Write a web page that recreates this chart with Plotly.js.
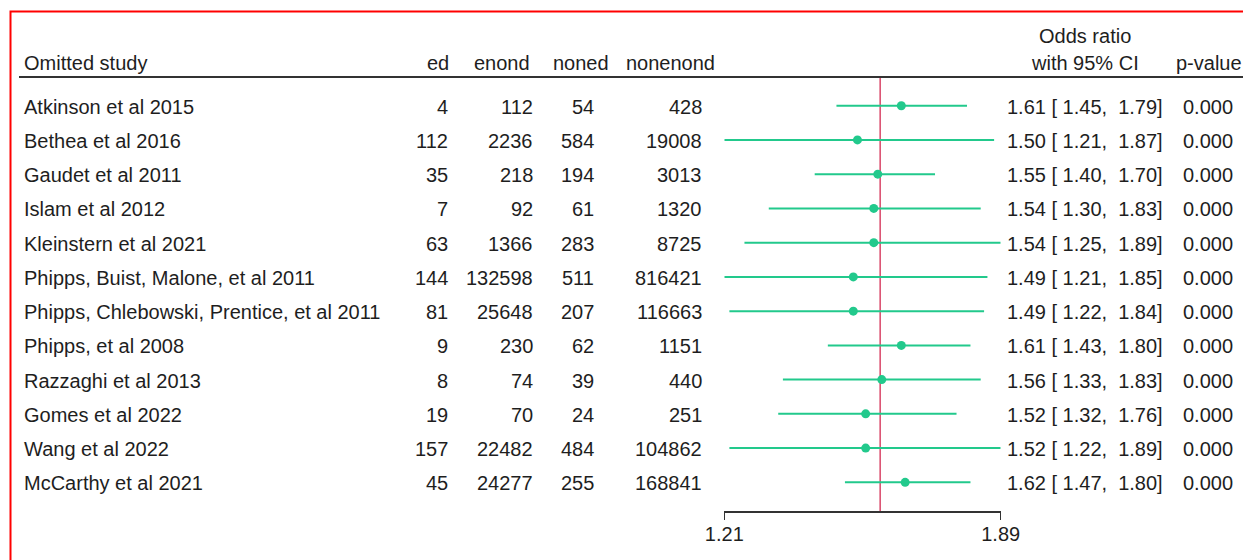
<!DOCTYPE html>
<html>
<head>
<meta charset="utf-8">
<script src="https://cdn.plot.ly/plotly-3.0.1.min.js"></script>
<style>
  html, body { margin: 0; padding: 0; background: #fff; overflow: hidden; }
  #chart { width: 1243px; height: 560px; }
</style>
</head>
<body>
<div id="chart"></div>
<script>
// Leave-one-out sensitivity analysis: each row re-pools the odds ratio with one study omitted.
const studies = [
  'Atkinson et al 2015',
  'Bethea et al 2016',
  'Gaudet et al 2011',
  'Islam et al 2012',
  'Kleinstern et al 2021',
  'Phipps, Buist, Malone, et al 2011',
  'Phipps, Chlebowski, Prentice, et al 2011',
  'Phipps, et al 2008',
  'Razzaghi et al 2013',
  'Gomes et al 2022',
  'Wang et al 2022',
  'McCarthy et al 2021'
];
const ed       = [4, 112, 35, 7, 63, 144, 81, 9, 8, 19, 157, 45];
const enond    = [112, 2236, 218, 92, 1366, 132598, 25648, 230, 74, 70, 22482, 24277];
const noned    = [54, 584, 194, 61, 283, 511, 207, 62, 39, 24, 484, 255];
const nonenond = [428, 19008, 3013, 1320, 8725, 816421, 116663, 1151, 440, 251, 104862, 168841];
const oddsRatio = [1.61, 1.50, 1.55, 1.54, 1.54, 1.49, 1.49, 1.61, 1.56, 1.52, 1.52, 1.62];
const ciLow     = [1.45, 1.21, 1.40, 1.30, 1.25, 1.21, 1.22, 1.43, 1.33, 1.32, 1.22, 1.47];
const ciHigh    = [1.79, 1.87, 1.70, 1.83, 1.89, 1.85, 1.84, 1.80, 1.83, 1.76, 1.89, 1.80];
const pValues   = [0, 0, 0, 0, 0, 0, 0, 0, 0, 0, 0, 0];
const overallOR = 1.556;
const axisTicks = [1.21, 1.89];

// ---- layout geometry (pixels in a 1243 x 560 figure) ----
const W = 1243, H = 560;
const firstRowPx = 105.7, rowStepPx = 34.24;
const rowOf = p => (p - firstRowPx) / rowStepPx;   // pixel -> row-index units
const px = x => x / W;                               // pixel -> paper x
const py = y => 1 - y / H;                           // pixel -> paper y
const headerLinePx = 77, axisLinePx = 511;

const TXT = '#1e1e1e';
const FONT = 'Liberation Sans, Arial, sans-serif';
const GREEN = '#22c98c';
const RED_LINE = '#dc5272';
const nb = s => s.replace(/ /g, '\u00A0');

const rows = studies.map((_, i) => i);

const annotations = [];
function addText(text, xPx, y, anchor) {
  annotations.push({
    text: text, xref: 'paper', x: px(xPx), yref: 'y', y: y,
    xanchor: anchor, yanchor: 'middle', showarrow: false,
    borderpad: 0, borderwidth: 0, yshift: -1,
    font: { family: FONT, size: 20, color: TXT }
  });
}

// column headers
const headerRow = rowOf(62);
addText('Omitted study', 24, headerRow, 'left');
addText('ed', 449, headerRow, 'right');
addText('enond', 502, headerRow, 'center');
addText('noned', 581, headerRow, 'center');
addText('nonenond', 671, headerRow, 'center');
addText('Odds ratio', 1085, rowOf(34.5), 'center');
addText('with 95% CI', 1085, headerRow, 'center');
addText('p-value', 1176, headerRow, 'left');

// table body
rows.forEach(i => {
  addText(studies[i], 24, i, 'left');
  addText(String(ed[i]), 448, i, 'right');
  addText(String(enond[i]), 533, i, 'right');
  addText(String(noned[i]), 594, i, 'right');
  addText(String(nonenond[i]), 702, i, 'right');
  const f = v => v.toFixed(2).padStart(5, ' ');
  addText(nb(oddsRatio[i].toFixed(2) + ' [' + f(ciLow[i]) + ', ' + f(ciHigh[i]) + ']'), 1163, i, 'right');
  addText(pValues[i].toFixed(3), 1183, i, 'left');
});

const traces = [
  {
    // reference line at the pooled estimate
    type: 'scatter', mode: 'lines',
    x: [overallOR, overallOR], y: [rowOf(headerLinePx), rowOf(axisLinePx)],
    line: { color: RED_LINE, width: 1.6 },
    hoverinfo: 'skip', cliponaxis: false
  },
  {
    type: 'scatter', mode: 'markers',
    x: oddsRatio, y: rows,
    error_x: {
      type: 'data', symmetric: false,
      array: oddsRatio.map((v, i) => ciHigh[i] - v),
      arrayminus: oddsRatio.map((v, i) => v - ciLow[i]),
      color: GREEN, thickness: 2, width: 0
    },
    marker: { color: GREEN, size: 9, line: { width: 0 } },
    cliponaxis: false,
    hovertemplate: '%{text}<extra></extra>',
    text: studies
  }
];

const layout = {
  width: W, height: H,
  margin: { l: 0, r: 0, t: 0, b: 0, pad: 0 },
  paper_bgcolor: '#fff', plot_bgcolor: 'rgba(0,0,0,0)',
  showlegend: false,
  xaxis: {
    type: 'log',
    range: [Math.log10(axisTicks[0]), Math.log10(axisTicks[1])],
    domain: [px(724.3), px(1000.7)],
    anchor: 'free', position: 1 - axisLinePx / H,
    showline: true, linecolor: '#333', linewidth: 1.5,
    ticks: 'outside', ticklen: 7, tickwidth: 1.5, tickcolor: '#333',
    ticklabelstandoff: -3,
    tickvals: axisTicks, ticktext: axisTicks.map(v => v.toFixed(2)),
    tickfont: { family: FONT, size: 20, color: TXT },
    showgrid: false, zeroline: false, fixedrange: true
  },
  yaxis: {
    range: [rowOf(H), rowOf(0)], domain: [0, 1],
    visible: false, fixedrange: true
  },
  shapes: [
    // header rule
    { type: 'line', xref: 'paper', yref: 'paper', x0: px(19), x1: 1.002,
      y0: py(headerLinePx), y1: py(headerLinePx), line: { color: '#333', width: 2 } },
    // outer frame
    { type: 'rect', xref: 'paper', yref: 'paper', x0: px(10.5), x1: 1.004,
      y0: py(11.5), y1: -0.006, line: { color: '#ff0000', width: 2 } }
  ],
  annotations: annotations
};

Plotly.newPlot('chart', traces, layout, { displayModeBar: false, staticPlot: true });
</script>
</body>
</html>
